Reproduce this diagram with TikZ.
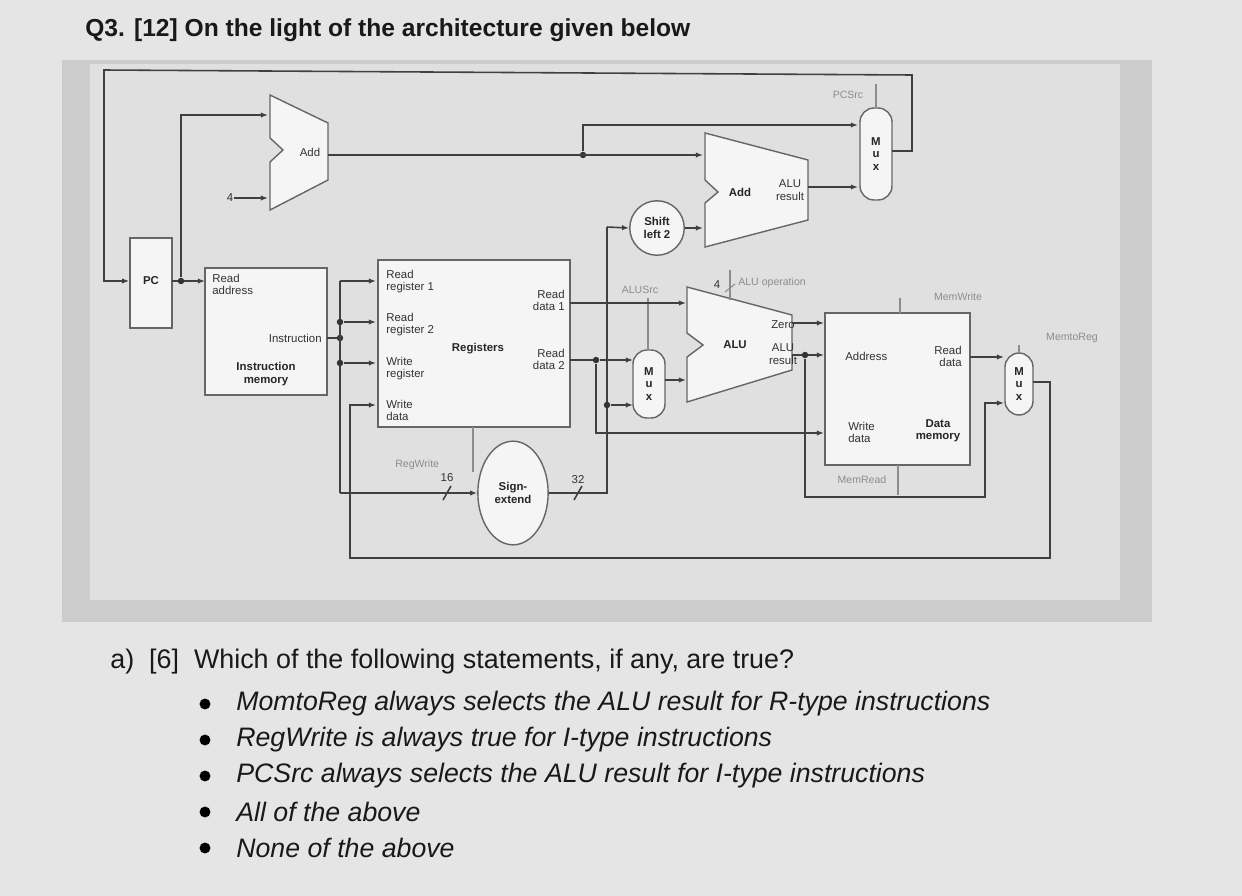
\documentclass[tikz,border=0pt]{standalone}
\usepackage{fontspec}
\setmainfont{Liberation Sans}
\usetikzlibrary{arrows.meta,shapes.geometric}
\begin{document}
\begin{tikzpicture}[x=0.02cm,y=-0.02cm,
  wire/.style={draw=black!75,line width=0.9pt},
  arr/.style={wire,-{Latex[length=4pt,width=3pt]}},
  ctl/.style={draw=black!45,line width=0.6pt},
  lbl/.style={font=\fontsize{6.5}{7}\selectfont,text=black!80,inner sep=0pt,align=center},
  glbl/.style={font=\fontsize{6}{7}\selectfont,text=black!45,inner sep=0pt},
  blbl/.style={font=\fontsize{6.5}{7}\selectfont\bfseries,text=black!85,inner sep=0pt,align=center},
  box/.style={draw=black!60,line width=0.8pt,fill=black!4},
  muxbox/.style={draw=black!60,line width=0.8pt,fill=black!4,rounded corners=8pt},
  dotj/.style={circle,fill=black!80,inner sep=1.3pt},
  qtext/.style={font=\fontsize{15.3}{17}\selectfont,text=black!90,anchor=west,inner sep=0pt}]
\useasboundingbox (0,0) rectangle (1242,896);
\fill[black!10] (0,0) rectangle (1242,896);
\fill[black!20] (62,60) rectangle (1152,622);
\fill[black!12] (90,64) rectangle (1120,600);

% title and question
\node[qtext,font=\fontsize{14}{16}\selectfont\bfseries] (title) at (85,30) {Q3. [12] On the light of the architecture given below};
\node[qtext] (qa) at (110,662) {a)\ \ [6]\ \ Which of the following statements, if any, are true?};
\foreach \yy/\tt [count=\i] in {704/{MomtoReg always selects the ALU result for R-type instructions},
  740/{RegWrite is always true for I-type instructions},
  776/{PCSrc always selects the ALU result for I-type instructions},
  812/{All of the above},848/{None of the above}}{
  \node[circle,fill=black,inner sep=2.2pt] (b\i) at (205,\yy) {};
  \node[qtext,font=\fontsize{15.2}{17}\selectfont\itshape] (it\i) at (236,\yy) {\tt};
}

% PC
\node[box,minimum width=24pt,minimum height=51pt,inner sep=0] (pc) at (151,283) {};
\node[blbl] at (151,281) {PC};
% Instruction memory
\draw[box] (205,268) rectangle (327,395);
\node[lbl,anchor=north west,align=left] (ra) at (212,274) {Read\\address};
\node[lbl,anchor=east] (instr) at (322,338) {Instruction};
\node[blbl] (imem) at (266,374) {Instruction\\memory};
% PC adder
\draw[box] (270,95) -- (328,123) -- (328,180) -- (270,210) -- (270,162) -- (283,150) -- (270,138) -- cycle;
\node[lbl] (addpc) at (310,152) {Add};
\node[lbl] (four) at (230,198) {4};
% Registers
\draw[box] (378,260) rectangle (570,427);
\node[lbl,anchor=north west,align=left] at (386,270) {Read\\register 1};
\node[lbl,anchor=north west,align=left] at (386,313) {Read\\register 2};
\node[lbl,anchor=north west,align=left] at (386,357) {Write\\register};
\node[lbl,anchor=north west,align=left] at (386,400) {Write\\data};
\node[blbl] at (478,349) {Registers};
\node[lbl,anchor=north east,align=right] at (565,290) {Read\\data 1};
\node[lbl,anchor=north east,align=right] at (565,349) {Read\\data 2};
\node[glbl,anchor=west] (rw) at (395,465) {RegWrite};
\draw[ctl] (473,427) -- (473,472);
% Sign extend
\node[ellipse,draw=black!60,line width=0.8pt,fill=black!4,minimum width=40pt,minimum height=59pt,inner sep=0] (se) at (513,493) {};
\node[blbl] at (513,493) {Sign-\\extend};
% Shift left 2
\node[circle,draw=black!60,line width=0.8pt,fill=black!4,minimum size=31pt,inner sep=0] (sl) at (657,228) {};
\node[blbl] at (657,228) {Shift\\left 2};
% Branch adder
\draw[box] (705,133) -- (808,160) -- (808,220) -- (705,247) -- (705,203) -- (718,192) -- (705,180) -- cycle;
\node[blbl] (addbr) at (740,192) {Add};
\node[lbl] at (790,190) {ALU\\result};
% PCSrc mux
\draw[muxbox] (860,108) rectangle (892,200);
\node[blbl] (m1) at (876,154) {M\\u\\x};
\node[glbl] (pcsrc) at (848,95) {PCSrc};
\draw[ctl] (876,84) -- (876,108);
% ALUSrc mux
\draw[muxbox] (633,350) rectangle (665,418);
\node[blbl] (m2) at (649,384) {M\\u\\x};
\node[glbl] (alusrc) at (640,290) {ALUSrc};
\draw[ctl] (648,298) -- (648,350);
% ALU
\draw[box] (687,287) -- (792,315) -- (792,370) -- (687,402) -- (687,357) -- (703,345) -- (687,333) -- cycle;
\node[blbl] (alu) at (735,345) {ALU};
\node[lbl] at (783,325) {Zero};
\node[lbl] at (783,354) {ALU\\result};
\node[glbl,anchor=west] (aluop) at (738,283) {ALU operation};
\node[lbl] at (717,285) {4};
\draw[ctl] (730,270) -- (730,300);
\draw[ctl] (725,292) -- (735,284);
% Data memory
\draw[box] (825,313) rectangle (970,465);
\node[lbl,anchor=west] at (845,356) {Address};
\node[lbl,anchor=north east,align=right] at (962,346) {Read\\data};
\node[lbl,anchor=north west,align=left] at (848,422) {Write\\data};
\node[blbl] at (938,431) {Data\\memory};
\node[glbl] (mw) at (958,297) {MemWrite};
\draw[ctl] (900,298) -- (900,313);
\node[glbl] (mr) at (862,480) {MemRead};
\draw[ctl] (898,465) -- (898,495);
% MemtoReg mux
\draw[muxbox] (1005,353) rectangle (1033,415);
\node[blbl] (m3) at (1019,384) {M\\u\\x};
\node[glbl] (m2r) at (1072,338) {MemtoReg};
\draw[ctl] (1019,345) -- (1019,353);

% ---- wires ----
\draw[arr] (892,151) -- (912,151) -- (912,75) -- (104,70) -- (104,281) -- (pc.west |- 0,281);
\draw[arr] (172,281) -- (205,281);
\node[dotj] (j1) at (181,281) {};
\draw[arr] (j1) -- (181,115) -- (268,115);
\draw[arr] (four) -- (268,198);
\node[dotj] (j2) at (583,155) {};
\draw[arr] (328,155) -- (703,155);
\draw[arr] (j2) -- (583,125) -- (858,125);
\draw[arr] (808,187) -- (858,187);
\draw[arr] (sl.east) -- (703,228);
% Instruction bus
\draw[wire] (327,338) -- (340,338);
\node[dotj] (j3) at (340,338) {};
\draw[arr] (340,281) -- (376,281);
\draw[wire] (340,281) -- (340,493);
\node[dotj] (j4) at (340,322) {};
\node[dotj] (j5) at (340,363) {};
\draw[arr] (j4) -- (376,322);
\draw[arr] (j5) -- (376,363);
\draw[arr] (340,493) -- (se.west);
\draw[wire] (443,500) -- (451,486);
\node[lbl] at (447,478) {16};
% sign extend out
\draw[wire] (se.east) -- (607,493) -- (607,227);
\draw[wire] (574,500) -- (582,486);
\node[lbl] at (578,480) {32};
\draw[arr] (607,227) -- (sl.west);
\node[dotj] (j6) at (607,405) {};
\draw[arr] (j6) -- (633,405);
\draw[arr] (570,303) -- (686,303);
\draw[wire] (570,360) -- (596,360);
\node[dotj] (j7) at (596,360) {};
\draw[arr] (j7) -- (633,360);
\draw[arr] (j7) -- (596,433) -- (824,433);
\draw[arr] (665,380) -- (686,380);
\draw[arr] (792,323) -- (824,323);
\draw[arr] (792,355) -- (824,355);
\node[dotj] (j8) at (805,355) {};
\draw[arr] (j8) -- (805,497) -- (985,497) -- (985,403) -- (1004,403);
\draw[arr] (970,357) -- (1004,357);
\draw[arr] (1033,382) -- (1050,382) -- (1050,558) -- (350,558) -- (350,405) -- (376,405);
\end{tikzpicture}
\end{document}
